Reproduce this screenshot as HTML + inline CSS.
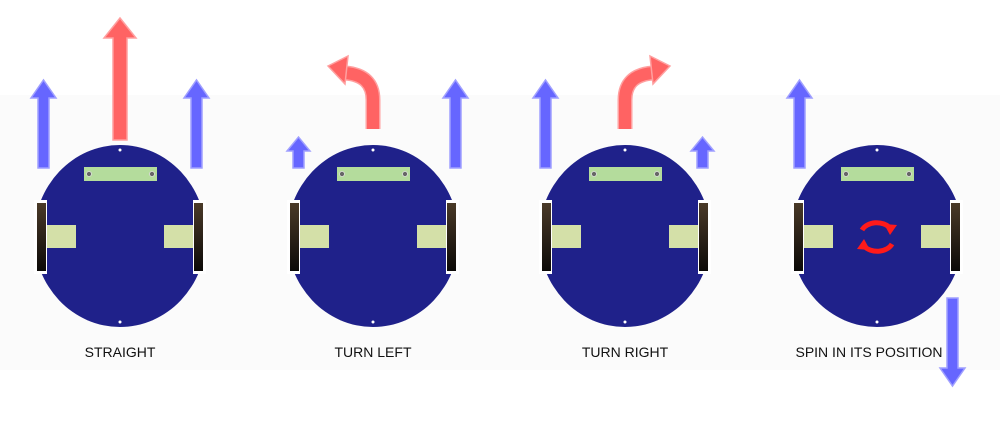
<!DOCTYPE html>
<html><head><meta charset="utf-8"><style>
html,body{margin:0;padding:0;background:#fff;width:1000px;height:425px;overflow:hidden}
svg{display:block}
text{font-family:"Liberation Sans",sans-serif;font-size:14px;fill:#111}
</style></head><body>
<svg width="1000" height="425" viewBox="0 0 1000 425">
<defs>
<linearGradient id="wheel" x1="0" y1="0" x2="0" y2="1">
<stop offset="0" stop-color="#4a3a28"/><stop offset="1" stop-color="#0c0a08"/></linearGradient>
<g id="robot">
<ellipse cx="0" cy="0" rx="86" ry="91" fill="#1f218a"/>
<rect x="-86" y="-36" width="13" height="74" fill="#fff"/>
<rect x="73" y="-36" width="13" height="74" fill="#fff"/>
<rect x="-83" y="-33" width="9" height="68" fill="url(#wheel)"/>
<rect x="74" y="-33" width="9" height="68" fill="url(#wheel)"/>
<rect x="-73" y="-11" width="29" height="23" fill="#d4e0a8"/>
<rect x="44" y="-11" width="29" height="23" fill="#d4e0a8"/>
<rect x="-36" y="-69" width="73" height="14" fill="#b4dc9c"/>
<circle cx="-31" cy="-62" r="2.5" fill="#666" stroke="#ddd" stroke-width="0.8"/>
<circle cx="32" cy="-62" r="2.5" fill="#666" stroke="#ddd" stroke-width="0.8"/>
<circle cx="0" cy="-86" r="1.5" fill="#fff"/>
<circle cx="0" cy="86" r="1.5" fill="#fff"/>
</g>
</defs>
<rect x="0" y="95" width="1000" height="275" fill="#fbfbfb"/>

<g>
<use href="#robot" x="120" y="236"/>
<g fill="#6666ff" stroke="#a0a0ff" stroke-width="1.5">
<polygon points="38,168 49,168 49,98 56,98 43.5,80 31,98 38,98"/>
<polygon points="191,168 202,168 202,98 209,98 196.5,80 184,98 191,98"/>
</g>
<polygon points="113,140 127,140 127,38 136,38 120,18 104,38 113,38" fill="#ff6363" stroke="#ffa0a0" stroke-width="1.5"/>
<text x="120" y="357" text-anchor="middle">STRAIGHT</text>
</g>

<g>
<use href="#robot" x="373" y="236"/>
<g fill="#6666ff" stroke="#a0a0ff" stroke-width="1.5">
<polygon points="293,168 304,168 304,151 310,151 298.5,137 287,151 293,151"/>
<polygon points="450,168 461,168 461,98 468,98 455.5,80 443,98 450,98"/>
</g>
<path d="M373,129 L373,100 Q373,75 345,73" fill="none" stroke="#ffa0a0" stroke-width="15"/>
<path d="M373,129 L373,100 Q373,75 345,73" fill="none" stroke="#ff6363" stroke-width="12"/>
<polygon points="328,66 348,56 345,84" fill="#ff6363" stroke="#ffa0a0" stroke-width="1.5"/>
<text x="373" y="357" text-anchor="middle">TURN LEFT</text>
</g>

<g>
<use href="#robot" x="625" y="236"/>
<g fill="#6666ff" stroke="#a0a0ff" stroke-width="1.5">
<polygon points="540,168 551,168 551,98 558,98 545.5,80 533,98 540,98"/>
<polygon points="697,168 708,168 708,151 714,151 702.5,137 691,151 697,151"/>
</g>
<path d="M625,129 L625,100 Q625,75 653,73" fill="none" stroke="#ffa0a0" stroke-width="15"/>
<path d="M625,129 L625,100 Q625,75 653,73" fill="none" stroke="#ff6363" stroke-width="12"/>
<polygon points="670,66 650,56 653,84" fill="#ff6363" stroke="#ffa0a0" stroke-width="1.5"/>
<text x="625" y="357" text-anchor="middle">TURN RIGHT</text>
</g>

<g>
<use href="#robot" x="877" y="236"/>
<g fill="#6666ff" stroke="#a0a0ff" stroke-width="1.5">
<polygon points="794,168 805,168 805,98 812,98 799.5,80 787,98 794,98"/>
<polygon points="947,298 958,298 958,368 965,368 952.5,386 940,368 947,368"/>
</g>
<g fill="none" stroke="#ff1a1a" stroke-width="5">
<path d="M862,230 A16,12 0 0 1 890,228"/>
<path d="M892,244 A16,12 0 0 1 864,246"/>
</g>
<polygon points="884,224 897,225 890,235" fill="#ff1a1a"/>
<polygon points="870,250 857,249 864,239" fill="#ff1a1a"/>
<text x="869" y="357" text-anchor="middle">SPIN IN ITS POSITION</text>
</g>
</svg>
</body></html>
